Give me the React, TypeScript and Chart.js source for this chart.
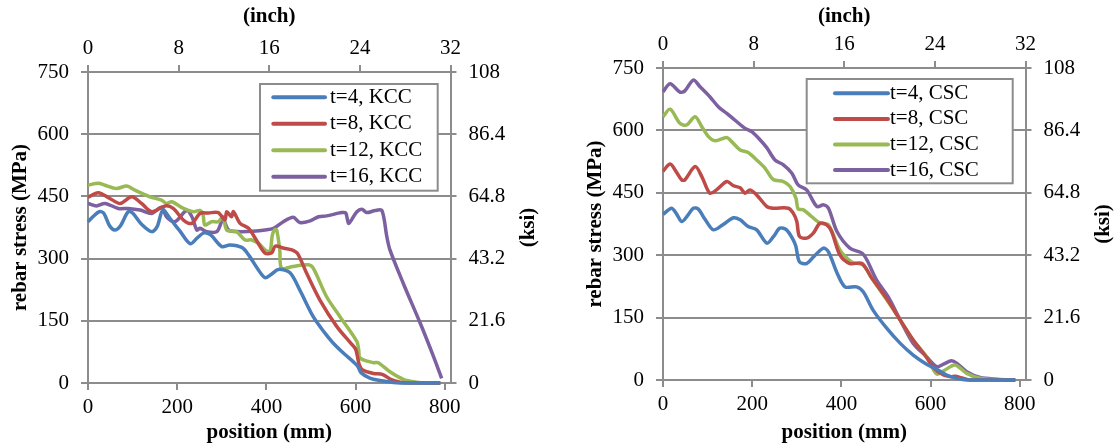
import React, { useEffect, useRef } from 'react';
import { Chart, registerables } from 'chart.js';

Chart.register(...registerables);

const FONT = '"Liberation Serif", "Times New Roman", Times, serif';
const GRID = '#8c8c8c';
const COLORS = ['#4A7EBB', '#BE4B48', '#98B954', '#7D60A0'];

// ---------- Tick labels ----------
const mmTicks = [0, 200, 400, 600, 800];
const inchTicks = [0, 8, 16, 24, 32];
const mpaTicks = [0, 150, 300, 450, 600, 750];
const ksiTicks = [0, 21.6, 43.2, 64.8, 86.4, 108];
const ksiLabels = ['0', '21.6', '43.2', '64.8', '86.4', '108'];

// ---------- KCC (left chart) ----------
const kccLabels = ['t=4, KCC', 't=8, KCC', 't=12, KCC', 't=16, KCC'];

const kccT4X = [0, 12, 25, 35, 48, 60, 72, 90, 100, 120, 143, 155, 168, 185, 205, 229, 245, 260, 275, 300, 318, 345, 360, 380, 397, 412, 427, 453, 475, 505, 530, 550, 575, 595, 605, 612, 632, 655, 685, 700, 790];
const kccT4Y = [389, 402, 413, 410, 380, 369, 378, 413, 410, 383, 365, 377, 417, 395, 368, 336, 350, 362, 357, 329, 333, 327, 309, 276, 254, 263, 274, 266, 224, 160, 122, 96, 70, 51, 40, 25, 12, 6, 1, 0, 0];

const kccT8X = [0, 23, 49, 72, 98, 120, 143, 173, 191, 214, 233, 251, 270, 292, 307, 311, 322, 326, 341, 360, 375, 397, 412, 420, 440, 457, 470, 490, 520, 558, 590, 600, 608, 615, 640, 660, 680, 700, 720, 790];
const kccT8Y = [448, 459, 445, 433, 449, 433, 413, 427, 421, 393, 385, 409, 410, 411, 393, 413, 401, 413, 385, 373, 349, 313, 314, 330, 325, 321, 312, 265, 200, 136, 95, 82, 45, 32, 23, 21, 8, 2, 0, 0];

const kccT12X = [0, 23, 38, 64, 87, 105, 139, 165, 176, 188, 214, 236, 251, 258, 262, 277, 292, 303, 311, 333, 352, 367, 382, 397, 408, 413, 418, 423, 430, 434, 460, 494, 505, 535, 565, 603, 607, 610, 640, 651, 677, 707, 737, 760, 790];
const kccT12Y = [477, 482, 477, 469, 475, 465, 449, 441, 433, 437, 421, 413, 416, 405, 381, 389, 389, 401, 369, 365, 345, 345, 337, 321, 317, 355, 369, 369, 320, 277, 281, 285, 277, 208, 160, 100, 80, 60, 49, 49, 27, 9, 2, 0, 0];

const kccT16X = [0, 19, 38, 68, 90, 117, 143, 165, 176, 195, 221, 233, 244, 251, 266, 289, 303, 315, 341, 370, 397, 416, 438, 460, 475, 498, 517, 535, 569, 578, 584, 590, 603, 614, 625, 644, 659, 670, 677, 707, 745, 775, 793];
const kccT16Y = [433, 427, 433, 421, 421, 417, 409, 424, 401, 389, 416, 401, 369, 373, 365, 365, 395, 369, 365, 366, 369, 373, 389, 400, 387, 391, 401, 403, 411, 410, 385, 392, 413, 419, 411, 416, 416, 353, 321, 240, 144, 63, 11];

// ---------- CSC (right chart) ----------
const cscLabels = ['t=4, CSC', 't=8, CSC', 't=12, CSC', 't=16, CSC'];

const cscT4X = [0, 19, 30, 42, 55, 68, 79, 95, 113, 135, 158, 173, 191, 210, 233, 248, 262, 277, 292, 298, 306, 322, 341, 360, 371, 390, 408, 434, 449, 471, 502, 532, 561, 591, 614, 636, 659, 681, 790];
const cscT4Y = [398, 413, 400, 381, 395, 413, 411, 385, 361, 374, 390, 385, 369, 361, 329, 345, 365, 361, 337, 321, 284, 280, 300, 317, 308, 258, 224, 224, 212, 168, 124, 88, 60, 38, 26, 12, 4, 0, 0];

const cscT8X = [0, 16, 30, 42, 49, 72, 87, 105, 120, 143, 158, 173, 184, 195, 210, 233, 247, 281, 292, 300, 306, 322, 337, 352, 367, 378, 397, 419, 446, 468, 502, 532, 561, 591, 606, 629, 645, 655, 670, 689, 790];
const cscT8Y = [502, 519, 500, 481, 481, 513, 489, 449, 457, 477, 467, 462, 449, 457, 445, 417, 413, 413, 401, 381, 345, 341, 353, 377, 373, 357, 300, 280, 280, 245, 195, 144, 96, 54, 30, 12, 8, 9, 5, 0, 0];

const cscT12X = [0, 16, 38, 53, 72, 87, 102, 117, 143, 154, 173, 191, 210, 229, 247, 270, 285, 298, 303, 315, 333, 352, 371, 397, 423, 449, 468, 502, 532, 561, 591, 614, 632, 655, 681, 711, 748, 790];
const cscT12Y = [633, 651, 617, 613, 633, 609, 585, 575, 583, 573, 553, 547, 529, 509, 482, 477, 465, 437, 411, 409, 393, 377, 373, 312, 284, 276, 245, 192, 144, 96, 56, 14, 24, 36, 16, 4, 1, 0];

const cscT16X = [0, 16, 38, 49, 68, 83, 105, 124, 143, 161, 184, 199, 218, 233, 251, 270, 289, 303, 322, 345, 360, 371, 390, 419, 446, 457, 479, 505, 532, 561, 591, 614, 629, 647, 659, 681, 711, 748, 789];
const cscT16Y = [693, 712, 692, 695, 721, 705, 681, 657, 641, 625, 605, 597, 577, 558, 529, 517, 497, 469, 457, 417, 421, 413, 357, 317, 305, 289, 240, 200, 144, 88, 56, 32, 38, 46, 40, 20, 6, 2, 0];

type LegendLayout = {
  x: number; y: number; w: number; h: number;
  lineX0: number; lineX1: number; textX: number; rowY0: number; rowStep: number;
};

type Spec = {
  labels: string[];
  xs: number[][];
  ys: number[][];
  width: number;
  topH: number;
  bottomH: number;
  rightW: number;
  legend: LegendLayout;
};

const legendPlugin = {
  id: 'boxLegend',
  afterDatasetsDraw(chart: any, _args: any, opts: any) {
    const { ctx, chartArea: ca } = chart;
    const L: LegendLayout = opts.layout;
    if (!L) return;
    ctx.save();
    ctx.fillStyle = '#ffffff';
    ctx.fillRect(ca.left + L.x, ca.top + L.y, L.w, L.h);
    ctx.strokeStyle = GRID;
    ctx.lineWidth = 2;
    ctx.strokeRect(ca.left + L.x, ca.top + L.y, L.w, L.h);
    chart.data.datasets.forEach((ds: any, i: number) => {
      const y = ca.top + L.rowY0 + i * L.rowStep;
      ctx.strokeStyle = ds.borderColor;
      ctx.lineWidth = 4;
      ctx.lineCap = 'round';
      ctx.beginPath();
      ctx.moveTo(ca.left + L.lineX0, y);
      ctx.lineTo(ca.left + L.lineX1, y);
      ctx.stroke();
      ctx.fillStyle = '#000';
      ctx.font = `21px ${FONT}`;
      ctx.textBaseline = 'middle';
      ctx.textAlign = 'left';
      ctx.fillText(ds.label, ca.left + L.textX, y);
    });
    ctx.restore();
  },
};

const ksiTitlePlugin = {
  id: 'ksiTitle',
  afterDraw(chart: any) {
    const { ctx, chartArea: ca } = chart;
    ctx.save();
    ctx.translate(ca.right + 78, (ca.top + ca.bottom) / 2);
    ctx.rotate(-Math.PI / 2);
    ctx.fillStyle = '#000';
    ctx.font = `bold 21px ${FONT}`;
    ctx.textAlign = 'center';
    ctx.textBaseline = 'middle';
    ctx.fillText('(ksi)', 0, 0);
    ctx.restore();
  },
};

function makeConfig(spec: Spec): any {
  const datasets = spec.labels.map((label, i) => ({
    label,
    data: spec.xs[i].map((x, j) => ({ x, y: spec.ys[i][j] })),
    borderColor: COLORS[i],
    backgroundColor: COLORS[i],
    borderWidth: 3.5,
    pointRadius: 0,
    tension: 0.3,
    fill: false,
    clip: false,
    xAxisID: 'x',
    yAxisID: 'y',
  }));
  const tickFont = { family: FONT, size: 21 };
  const titleFont = { family: FONT, size: 21, weight: 'bold' as const };
  const grid = (onArea: boolean, tl: number) => ({
    drawOnChartArea: onArea,
    drawTicks: true,
    tickLength: tl,
    color: GRID,
    lineWidth: 2,
  });
  const border = { display: true, color: GRID, width: 2 };
  return {
    type: 'line',
    data: { datasets },
    options: {
      responsive: false,
      animation: false,
      events: [],
      layout: { padding: 0 },
      plugins: {
        legend: { display: false },
        tooltip: { enabled: false },
        boxLegend: { layout: spec.legend },
      },
      scales: {
        x: {
          type: 'linear',
          position: 'bottom',
          min: 0,
          max: 812.8,
          afterBuildTicks: (s: any) => { s.ticks = mmTicks.map((v) => ({ value: v })); },
          afterFit: (s: any) => { s.height = spec.bottomH; },
          grid: grid(false, 7),
          border,
          ticks: { padding: 5, color: '#000', font: tickFont, maxRotation: 0, autoSkip: false },
          title: { display: true, text: 'position (mm)', color: '#000', font: titleFont, padding: { top: 0, bottom: 0 } },
        },
        x2: {
          type: 'linear',
          position: 'top',
          min: 0,
          max: 32,
          afterBuildTicks: (s: any) => { s.ticks = inchTicks.map((v) => ({ value: v })); },
          afterFit: (s: any) => { s.height = spec.topH; },
          grid: grid(false, 7),
          border,
          ticks: { padding: 4, color: '#000', font: tickFont, maxRotation: 0, autoSkip: false },
          title: { display: true, text: '(inch)', color: '#000', font: titleFont, padding: { top: 4, bottom: 0 } },
        },
        y: {
          type: 'linear',
          position: 'left',
          min: 0,
          max: 750,
          afterBuildTicks: (s: any) => { s.ticks = mpaTicks.map((v) => ({ value: v })); },
          afterFit: (s: any) => { s.width = 88; },
          grid: grid(true, 7),
          border,
          ticks: { padding: 12, color: '#000', font: tickFont },
          title: { display: true, text: 'rebar stress (MPa)', color: '#000', font: titleFont, padding: { top: 8, bottom: 0 } },
        },
        y2: {
          type: 'linear',
          position: 'right',
          min: 0,
          max: 108,
          afterBuildTicks: (s: any) => { s.ticks = ksiTicks.map((v) => ({ value: v })); },
          afterFit: (s: any) => { s.width = spec.rightW; },
          grid: grid(false, 6),
          border,
          ticks: {
            padding: 12,
            color: '#000',
            font: tickFont,
            callback: (_v: any, i: number) => ksiLabels[i],
          },
          title: { display: false },
        },
      },
    },
    plugins: [legendPlugin, ksiTitlePlugin],
  };
}

function ChartCanvas({ spec, left }: { spec: Spec; left: number }) {
  const ref = useRef<HTMLCanvasElement | null>(null);
  useEffect(() => {
    if (!ref.current) return;
    const chart = new Chart(ref.current, makeConfig(spec));
    return () => chart.destroy();
  }, [spec]);
  return (
    <canvas
      ref={ref}
      width={spec.width}
      height={445}
      style={{ position: 'absolute', left, top: 0, width: spec.width, height: 445 }}
    />
  );
}

const kccSpec: Spec = {
  labels: kccLabels,
  xs: [kccT4X, kccT8X, kccT12X, kccT16X],
  ys: [kccT4Y, kccT8Y, kccT12Y, kccT16Y],
  width: 575,
  topH: 72,
  bottomH: 62,
  rightW: 124.5,
  legend: { x: 172, y: 12, w: 177.7, h: 106.7, lineX0: 185.3, lineX1: 237, textX: 242, rowY0: 25.3, rowStep: 26.5 },
};

const cscSpec: Spec = {
  labels: cscLabels,
  xs: [cscT4X, cscT8X, cscT12X, cscT16X],
  ys: [cscT4Y, cscT8Y, cscT12Y, cscT16Y],
  width: 539,
  topH: 68,
  bottomH: 65,
  rightW: 88.5,
  legend: { x: 143.7, y: 11, w: 206, h: 104.3, lineX0: 172, lineX1: 225, textX: 227, rowY0: 25.3, rowStep: 25.6 },
};

export default function App() {
  return (
    <div style={{ position: 'absolute', left: 0, top: 0, width: 1114, height: 445, background: '#fff', overflow: 'hidden' }}>
      <ChartCanvas spec={kccSpec} left={0} />
      <ChartCanvas spec={cscSpec} left={575} />
    </div>
  );
}
